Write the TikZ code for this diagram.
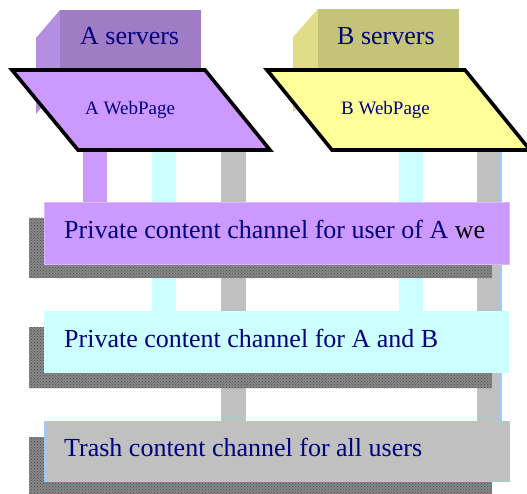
\documentclass[tikz,border=0pt]{standalone}
\usepackage{fontspec}
\setmainfont{Liberation Serif}
\newfontfamily\diagramserif{Liberation Serif}
\usetikzlibrary{patterns}
\definecolor{navytext}{RGB}{0,0,128}
\definecolor{pagea}{RGB}{204,153,255}
\definecolor{pageb}{RGB}{255,255,153}
\definecolor{srvafront}{RGB}{160,124,196}
\definecolor{srvaside}{RGB}{180,142,224}
\definecolor{srvbfront}{RGB}{196,196,120}
\definecolor{srvbside}{RGB}{224,220,136}
\definecolor{chanpurple}{RGB}{204,153,255}
\definecolor{chancyan}{RGB}{204,255,255}
\definecolor{changrey}{RGB}{192,192,192}
\definecolor{edgeblue}{RGB}{153,204,255}
\definecolor{shadowgrey}{RGB}{135,135,135}
\tikzset{
  txt/.style={anchor=base west, inner sep=0pt, text=navytext},
  bigtxt/.style={txt, font=\diagramserif\fontsize{26}{26}\selectfont},
  smalltxt/.style={txt, font=\diagramserif\fontsize{19}{19}\selectfont},
  pageshape/.style={draw=black, line width=3.6pt, line join=miter},
  chanshadow/.style={fill=shadowgrey, postaction={pattern=crosshatch dots, pattern color=black!70}},
  barline/.style={line width=24pt},
  greybar/.style={line width=25pt, draw=edgeblue, postaction={draw=changrey, line width=22.6pt}},
}
\begin{document}
\begin{tikzpicture}[x=1pt, y=-1pt]
\useasboundingbox (0,0) rectangle (527,494);

% server boxes (front face plus slanted side face)
\fill[srvaside] (60,10) -- (36,38) -- (36,114) -- (60,86) -- cycle;
\fill[srvafront] (60,10) rectangle (201,86);
\fill[srvbside] (318,9) -- (293,37) -- (293,113) -- (318,85) -- cycle;
\fill[srvbfront] (318,9) rectangle (459,85);
\node[bigtxt] (asrv) at (80,45) {A servers};
\node[bigtxt] (bsrv) at (337,45) {B servers};

% feed bars from the web pages down to the channels
\coordinate (a1) at (94.5,150);
\coordinate (a2) at (164,150);
\coordinate (a3) at (233.5,150);
\coordinate (b2) at (411,150);
\coordinate (b3) at (489,150);
\coordinate (pchan) at (0,203);
\coordinate (cchan) at (0,312);
\coordinate (gchan) at (0,422);
\draw[barline, chancyan] (a2) -- (a2 |- cchan);
\draw[barline, chancyan] (b2) -- (b2 |- cchan);
\draw[greybar] (a3) -- (a3 |- gchan);
\draw[greybar] (b3) -- (b3 |- gchan);
\draw[barline, chanpurple] (a1) -- (a1 |- pchan);

% shadows under the channels
\path[chanshadow] (29,218) rectangle (492,278);
\path[chanshadow] (29,327) rectangle (492,388);
\path[chanshadow] (29,437) rectangle (492,494);

% channels
\path[fill=chanpurple, draw=chanpurple!70!white, line width=0.8pt] (44,202) rectangle (509,264);
\path[fill=chancyan] (44,311) rectangle (509,373);
\path[fill=changrey, draw=edgeblue, line width=1pt] (44,421) rectangle (509,481);
\node[bigtxt] (pchantext) at (64,239) {Private content channel for user of A \textcolor{black}{we}};
\node[bigtxt] (cchantext) at (64,347) {Private content channel for A and B};
\node[bigtxt] (gchantext) at (64,456) {Trash content channel for all users};

% web pages
\path[pageshape, fill=pagea] (12,70) -- (205,70) -- (270,150) -- (78,150) -- cycle;
\path[pageshape, fill=pageb] (267,70) -- (465,70) -- (530,150) -- (332,150) -- cycle;
\node[smalltxt] (aweb) at (85,115) {A WebPage};
\node[smalltxt] (bweb) at (341,115) {B WebPage};
\end{tikzpicture}
\end{document}
